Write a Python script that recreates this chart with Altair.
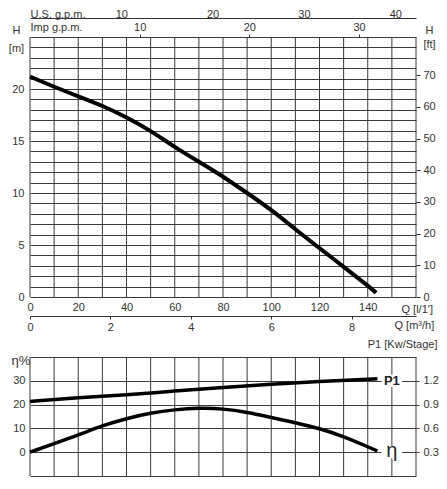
import pandas as pd
import altair as alt

# pump head curve, Q in l/min, H in m
q_head = [0, 10, 20, 30, 40, 50, 60, 70, 80, 90, 100, 110, 120, 130, 140, 143.5]
head_m = [21.2, 20.2, 19.3, 18.4, 17.3, 16.0, 14.4, 13.0, 11.6, 10.0, 8.4, 6.5, 4.7, 2.9, 1.1, 0.4]

# efficiency (%), Q in l/min
q_eff = [0, 10, 20, 30, 40, 50, 60, 70, 80, 90, 100, 110, 120, 130, 140, 144]
eff_pct = [0, 3.6, 7.2, 11.2, 14.2, 16.5, 17.9, 18.6, 18.3, 16.8, 14.6, 12.4, 10.0, 6.6, 2.3, 0.5]

# absorbed power P1 (kW/stage), Q in l/min
q_p1 = [0, 20, 40, 60, 80, 100, 120, 140, 144]
p1_kw = [0.94, 0.985, 1.025, 1.07, 1.115, 1.155, 1.19, 1.22, 1.225]

# ticks / grids
q_grid = list(range(0, 161, 10))
h_grid = list(range(0, 26))
ft_ticks = [0, 10, 20, 30, 40, 50, 60, 70]
m3h_ticks = [0, 2, 4, 6, 8]
imp_ticks = [10, 20, 30]
us_ticks = [10, 20, 30, 40]
eff_grid = [-10, 0, 10, 20, 30, 40]
p1_ticks = [0.3, 0.6, 0.9, 1.2]

end_labels = ['P1', 'η']
end_q = [150, 150]
end_eff = [30, 0]

Q_MAX = 160
H_MAX = 25
EFF_MIN, EFF_MAX = -10, 40

# layout: both panels share one view, stacked through the y ranges
W = 386
TOP_H = 260
GAP = 60
LOW_H = 119
TOTAL_H = TOP_H + GAP + LOW_H
LOW_TOP = TOP_H + GAP

head_df = pd.DataFrame({'Q': q_head, 'H': head_m})
eff_df = pd.DataFrame({'Q': q_eff, 'eta': eff_pct})
p1_df = pd.DataFrame({'Q': q_p1, 'P1': p1_kw})
lab_df = pd.DataFrame({'Q': end_q, 'eta': end_eff, 'label': end_labels})
top_grid_df = pd.DataFrame({'Q': q_grid, 'lo': 0, 'hi': H_MAX})
low_grid_df = pd.DataFrame({'Q': q_grid, 'lo': EFF_MIN, 'hi': EFF_MAX})

TXT = '#333'
GRID = '#3a3a3a'
FONT = 'Liberation Sans'


def q_scale():
    return alt.Scale(domain=[0, Q_MAX], nice=False)


def h_scale():
    return alt.Scale(domain=[0, H_MAX], range=[TOP_H, 0], nice=False)


def eff_scale():
    return alt.Scale(domain=[EFF_MIN, EFF_MAX], range=[TOTAL_H, LOW_TOP], nice=False)


# vertical grid of the head panel
top_vgrid = alt.Chart(top_grid_df).mark_rule(color=GRID, strokeWidth=1).encode(
    x=alt.X('Q:Q', scale=q_scale(), axis=None),
    y=alt.Y('lo:Q', scale=h_scale(), axis=None),
    y2='hi:Q'
)

head_line = alt.Chart(head_df).mark_line(color='black', strokeWidth=4, interpolate='basis').encode(
    x=alt.X('Q:Q', scale=q_scale(),
            axis=alt.Axis(orient='bottom', offset=-(GAP + LOW_H), values=q_grid, grid=False,
                          ticks=False, domain=False,
                          labelExpr="datum.value % 20 === 0 && datum.value < 160 ? datum.label : ''",
                          labelPadding=4, labelFlush=False,
                          title="Q [l/1']", titleX=371, titleY=12, titleAlign='left',
                          titleBaseline='middle', titleAngle=0)),
    y=alt.Y('H:Q', scale=h_scale(),
            axis=alt.Axis(orient='left', values=h_grid, grid=True, ticks=False, domain=False,
                          labelExpr="datum.value % 5 === 0 && datum.value < 25 ? datum.label : ''",
                          labelPadding=6, labelFlush=False,
                          title=['H', '[m]'], titleAngle=0, titleX=-14, titleY=-4,
                          titleAlign='center', titleBaseline='alphabetic', titleLineHeight=18))
)

ft_axis = alt.Chart(pd.DataFrame({'ft': ft_ticks})).mark_point(opacity=0).encode(
    y=alt.Y('ft:Q', scale=alt.Scale(domain=[0, H_MAX * 3.2808], range=[TOP_H, 0], nice=False),
            axis=alt.Axis(orient='right', values=ft_ticks, grid=False, domain=False, tickSize=4,
                          labelPadding=3, labelFlush=False,
                          title=['H', '[ft]'], titleAngle=0, titleX=13, titleY=-4,
                          titleAlign='center', titleBaseline='alphabetic', titleLineHeight=14))
)

m3h_axis = alt.Chart(pd.DataFrame({'m3h': m3h_ticks})).mark_point(opacity=0).encode(
    x=alt.X('m3h:Q', scale=alt.Scale(domain=[0, Q_MAX * 0.06], nice=False),
            axis=alt.Axis(orient='bottom', offset=-(GAP + LOW_H) + 19, values=m3h_ticks, grid=False,
                          tickSize=3, labelPadding=2, labelFlush=False,
                          title='Q [m³/h]', titleX=364, titleY=9, titleAlign='left',
                          titleBaseline='middle', titleAngle=0))
)

imp_axis = alt.Chart(pd.DataFrame({'imp': imp_ticks})).mark_point(opacity=0).encode(
    x=alt.X('imp:Q', scale=alt.Scale(domain=[0, Q_MAX / 4.546], nice=False),
            axis=alt.Axis(orient='top', values=imp_ticks, grid=False, domain=False, tickSize=3,
                          labelPadding=2, labelFlush=False,
                          title='Imp  g.p.m.', titleX=0, titleY=-5, titleAlign='left',
                          titleBaseline='bottom', titleAngle=0))
)

us_axis = alt.Chart(pd.DataFrame({'us': us_ticks})).mark_point(opacity=0).encode(
    x=alt.X('us:Q', scale=alt.Scale(domain=[0, Q_MAX / 3.785], nice=False),
            axis=alt.Axis(orient='top', offset=19, values=us_ticks, grid=False, ticks=False,
                          labelPadding=1, labelFlush=False, labelBaseline='alphabetic',
                          title='U.S.  g.p.m.', titleX=0, titleY=-1, titleAlign='left',
                          titleBaseline='alphabetic', titleAngle=0))
)

# vertical grid of the efficiency / power panel
low_vgrid = alt.Chart(low_grid_df).mark_rule(color=GRID, strokeWidth=1).encode(
    x=alt.X('Q:Q', scale=q_scale(), axis=None),
    y=alt.Y('lo:Q', scale=eff_scale(), axis=None),
    y2='hi:Q'
)

eff_line = alt.Chart(eff_df).mark_line(color='black', strokeWidth=3.5, interpolate='basis').encode(
    x=alt.X('Q:Q', scale=q_scale(), axis=None),
    y=alt.Y('eta:Q', scale=eff_scale(),
            axis=alt.Axis(orient='left', values=eff_grid, grid=True, ticks=False, domain=False,
                          labelExpr="datum.value >= 0 && datum.value <= 30 ? datum.label : ''",
                          labelPadding=5, labelFlush=False,
                          title='η%', titleFontSize=13, titleAngle=0, titleX=-19, titleY=LOW_TOP + 3,
                          titleAlign='left', titleBaseline='middle'))
)

p1_line = alt.Chart(p1_df).mark_line(color='black', strokeWidth=3.5, interpolate='monotone').encode(
    x=alt.X('Q:Q', scale=q_scale(), axis=None),
    y=alt.Y('P1:Q', scale=alt.Scale(domain=[0, 1.5], range=[TOTAL_H, LOW_TOP], nice=False),
            axis=alt.Axis(orient='right', values=p1_ticks, grid=False, domain=False, tickSize=3,
                          labelPadding=4, labelFlush=False, format='.1f',
                          title='P1 [Kw/Stage]', titleAngle=0, titleX=21, titleY=LOW_TOP - 13,
                          titleAlign='right', titleBaseline='middle'))
)

label_box = alt.Chart(lab_df).mark_point(
    shape='M-1,-0.6H1V0.6H-1Z', filled=True, color='white', opacity=1, size=420
).encode(
    x=alt.X('Q:Q', scale=q_scale(), axis=None),
    y=alt.Y('eta:Q', scale=eff_scale(), axis=None)
)

label_p1 = alt.Chart(lab_df[lab_df['label'] == 'P1']).mark_text(
    font=FONT, fontSize=13, fontWeight='bold', color='#222', baseline='middle'
).encode(
    x=alt.X('Q:Q', scale=q_scale(), axis=None),
    y=alt.Y('eta:Q', scale=eff_scale(), axis=None),
    text='label:N'
)

label_eta = alt.Chart(lab_df[lab_df['label'] == 'η']).mark_text(
    font=FONT, fontSize=20, color='#222', baseline='alphabetic', dy=5
).encode(
    x=alt.X('Q:Q', scale=q_scale(), axis=None),
    y=alt.Y('eta:Q', scale=eff_scale(), axis=None),
    text='label:N'
)

chart = alt.layer(
    top_vgrid, low_vgrid, head_line, ft_axis, m3h_axis, imp_axis, us_axis,
    eff_line, p1_line, label_box, label_p1, label_eta
).resolve_scale(
    x='independent', y='independent'
).properties(
    width=W, height=TOTAL_H, padding=0
).configure_axis(
    labelFont=FONT, labelFontSize=11, labelColor=TXT,
    titleFont=FONT, titleFontSize=11, titleFontWeight='normal', titleColor=TXT,
    gridColor=GRID, gridWidth=1, gridOpacity=1,
    domainColor='#333', tickColor='#333'
).configure_view(
    stroke='transparent'
)

chart.save("out.html", embed_options={"renderer": "svg", "actions": False})
